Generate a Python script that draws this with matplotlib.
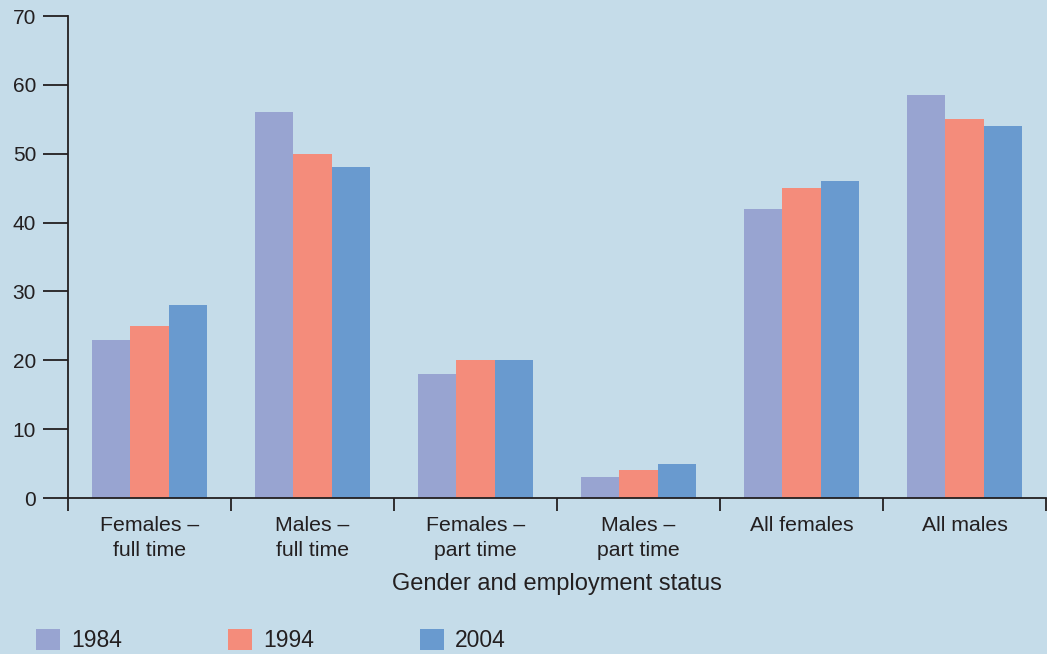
import numpy as np
import matplotlib
matplotlib.use('Agg')
import matplotlib.pyplot as plt

plt.rcParams['font.family'] = ['Liberation Sans', 'DejaVu Sans']

# categories and percentages per survey year
categories = ['Females –\nfull time', 'Males –\nfull time', 'Females –\npart time',
              'Males –\npart time', 'All females', 'All males']
years = ['1984', '1994', '2004']
v1984 = [23, 56, 18, 3, 42, 58.5]
v1994 = [25, 50, 20, 4, 45, 55]
v2004 = [28, 48, 20, 5, 46, 54]
colors = ['#98A4D1', '#F48C7B', '#699ACF']

bg = '#C5DCE9'
ink = '#231F20'

fig = plt.figure(figsize=(10.47, 6.54), dpi=100, facecolor=bg)
ax = fig.add_axes([68/1047, 1 - 498/654, 978/1047, (498 - 16)/654])
ax.set_facecolor(bg)

x = np.arange(len(categories)) + 0.5
w = 0.235
for i, (vals, c, yr) in enumerate(zip([v1984, v1994, v2004], colors, years)):
    ax.bar(x + (i - 1) * w, vals, width=w, color=c, label=yr, zorder=2)

ax.set_xlim(0, len(categories))
ax.set_ylim(0, 70)
ax.set_yticks(range(0, 71, 10))

# boundaries get the tick marks, centres get the labels
ax.set_xticks(range(len(categories) + 1))
ax.set_xticklabels([])
ax.set_xticks(x, minor=True)
ax.set_xticklabels(categories, minor=True, fontsize=15.3, color=ink, linespacing=1.4)
ax.tick_params(axis='x', which='major', length=9, width=1.3, color=ink, direction='out')
ax.tick_params(axis='x', which='minor', length=0, pad=13)
ax.tick_params(axis='y', length=18, width=1.3, color=ink, labelsize=15, labelcolor=ink, pad=5)

for s in ['top', 'right']:
    ax.spines[s].set_visible(False)
for s in ['left', 'bottom']:
    ax.spines[s].set_color(ink)
    ax.spines[s].set_linewidth(1.3)

ax.set_xlabel('Gender and employment status', fontsize=17, color=ink, labelpad=9)

leg = fig.legend(loc='upper left', bbox_to_anchor=(36/1047, 1 - 629/654), ncol=3,
                 frameon=False, fontsize=16.5, handlelength=1.05, handleheight=1.05,
                 handletextpad=0.48, columnspacing=4.62, borderpad=0, borderaxespad=0)
for t in leg.get_texts():
    t.set_color(ink)

fig.savefig('out.png', dpi=100, facecolor=bg)
